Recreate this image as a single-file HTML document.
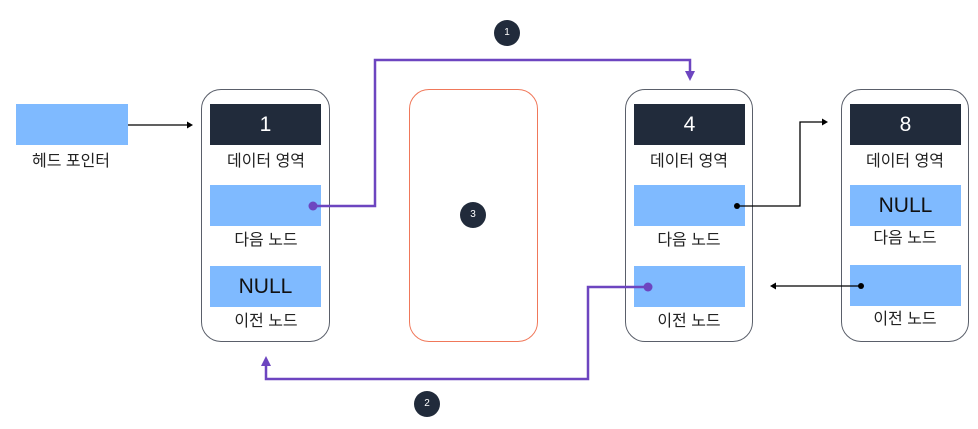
<!DOCTYPE html>
<html><head><meta charset="utf-8"><style>
body{margin:0;width:978px;height:429px;background:#fff;overflow:hidden;position:relative;font-family:"Liberation Sans","Noto Sans CJK KR",sans-serif}
.a{position:absolute}
.node{position:absolute;border:1.3px solid #5a5f6a;border-radius:20px;box-sizing:border-box}
.dk{position:absolute;background:#212b3b;color:#fff;font-size:21px;text-align:center;line-height:41px;width:111px;height:41px}
.bl{position:absolute;background:#7fbaff;color:#111;font-size:21px;text-align:center;line-height:41px;width:111px;height:41px}
.lb{position:absolute;width:130px;text-align:center;font-size:16px;color:#222;line-height:20px}
.c{position:absolute;width:26px;height:26px;border-radius:50%;background:#212b3b;color:#fff;font-size:10px;text-align:center;line-height:26px}
</style></head><body>
<div class="bl" style="left:16px;top:104px;width:112px"></div>
<div class="lb" style="left:6px;top:152px">헤드 포인터</div>

<div class="node" style="left:201px;top:89px;width:129px;height:253px"></div>
<div class="dk" style="left:210px;top:104px">1</div>
<div class="lb" style="left:201px;top:152px">데이터 영역</div>
<div class="bl" style="left:210px;top:185px"></div>
<div class="lb" style="left:201px;top:231px">다음 노드</div>
<div class="bl" style="left:210px;top:266px">NULL</div>
<div class="lb" style="left:201px;top:312px">이전 노드</div>

<div class="node" style="left:409px;top:89px;width:129px;height:253px;border-color:#f0785a;border-width:1px"></div>

<div class="node" style="left:625px;top:89px;width:128px;height:253px"></div>
<div class="dk" style="left:634px;top:104px">4</div>
<div class="lb" style="left:624px;top:152px">데이터 영역</div>
<div class="bl" style="left:634px;top:185px"></div>
<div class="lb" style="left:624px;top:231px">다음 노드</div>
<div class="bl" style="left:634px;top:266px"></div>
<div class="lb" style="left:624px;top:312px">이전 노드</div>

<div class="node" style="left:841px;top:89px;width:128px;height:253px"></div>
<div class="dk" style="left:850px;top:104px">8</div>
<div class="lb" style="left:840px;top:152px">데이터 영역</div>
<div class="bl" style="left:850px;top:185px">NULL</div>
<div class="lb" style="left:840px;top:229px">다음 노드</div>
<div class="bl" style="left:850px;top:265px"></div>
<div class="lb" style="left:840px;top:310px">이전 노드</div>

<svg class="a" style="left:0;top:0" width="978" height="429">
<g stroke="#000" stroke-width="1.3" fill="none">
<path d="M128 125H188"/>
<path d="M737 206H800V122H822"/>
<path d="M861 286H776"/>
</g>
<g fill="#000">
<path d="M193 125l-6-3.5v7z"/>
<path d="M828 122l-6-3.5v7z"/>
<path d="M770 286l6-3.5v7z"/>
<circle cx="737" cy="206" r="3"/>
<circle cx="861" cy="286" r="3"/>
</g>
<g stroke="#6d45c0" stroke-width="2.5" fill="none">
<path d="M313 206H375V60H690V73"/>
<path d="M648 287H588V379H266V366"/>
</g>
<g fill="#6d45c0">
<path d="M690 81l-5-10h10z"/>
<path d="M266 356l-5 10h10z"/>
<circle cx="313" cy="206" r="4.5"/>
<circle cx="648" cy="287" r="4.5"/>
</g>
</svg>
<div class="c" style="left:494px;top:20px">1</div>
<div class="c" style="left:460px;top:202px">3</div>
<div class="c" style="left:414px;top:391px">2</div>
</body></html>
